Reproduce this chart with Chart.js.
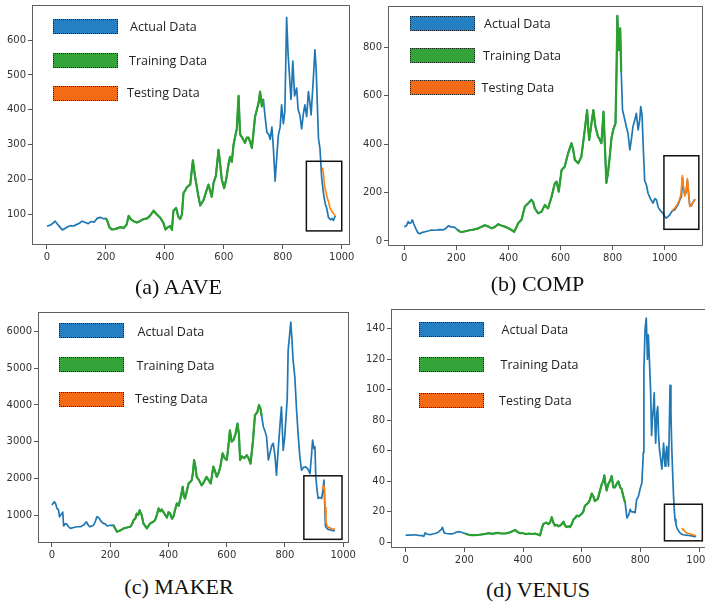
<!DOCTYPE html>
<html lang="en">
<head>
<meta charset="UTF-8" />
<title>Actual / Training / Testing</title>
<script src="https://cdn.jsdelivr.net/npm/chart.js"></script>
<style>
    body { margin: 0; background: #fff; width: 705px; height: 603px; overflow: hidden; position: relative; }
    canvas { position: absolute; }
    .key { position: absolute; width: 63px; height: 13px; border: 1px dotted #222; }
    .keytxt { position: absolute; font-family: "Open Sans", sans-serif; font-size: 12.5px; color: #222; line-height: 16px; white-space: nowrap; }
    .cap { position: absolute; font-family: "Liberation Serif", serif; font-size: 22px; line-height: 22px; color: #111; white-space: nowrap; transform: translateX(-50%); }
</style>
</head>
<body>

<canvas id="cA" width="356" height="262" style="left:0px;top:0px"></canvas>
<canvas id="cB" width="349" height="263" style="left:356px;top:0px"></canvas>
<canvas id="cC" width="356" height="260" style="left:4px;top:300px"></canvas>
<canvas id="cD" width="355" height="265" style="left:359px;top:300px"></canvas>

<script>
// ---- AAVE ----
const aaveX = [0,10,20,28,35,45,52,60,70,80,90,100,110,119,130,140,150,160,170,180,192,200,205,212,220,230,240,250,260,270,277,285,294,305,315,328,340,350,362,372,384,395,402,410,418,424,429,438,446,452,458,463,470,475,486,495,502,508,514,520,531,540,548,559,565,573,582,588,593,601,608,616,621,627,633,640,644,650,655,662,672,678,684,690,695,700,706,712,718,723,729,734,740,746,752,757,763,768,774,780,785,791,796,802,807,813,818,824,828,834,840,847,852,858,864,870,875,881,887,892,896,904,909,913,917,921,926,932,938,944,949,955,962,967,972,978];
const aaveY = [66,68,74,80,72,62,55,58,64,67,66,70,74,80,76,73,79,77,88,91,87,88,80,62,56,57,60,63,60,70,95,85,80,76,80,86,88,96,110,100,90,75,56,62,66,55,110,118,92,86,100,160,170,178,185,255,210,180,150,125,140,165,185,150,190,210,285,240,200,175,200,245,265,250,300,330,345,440,330,320,305,320,320,305,290,330,380,400,420,452,410,430,380,335,330,315,350,290,195,270,327,350,414,360,395,665,560,481,430,540,440,462,400,385,345,390,414,380,452,420,385,495,572,520,420,318,290,203,160,130,117,90,84,88,82,96];
const aaveTestX = [935,938,942,946,950,955,960,966,972,978];
const aaveTest = [234,215,178,165,150,136,118,109,102,96];
const aaveTrain = [200, 734];
const aaveXTicks = [0, 200, 400, 600, 800, 1000];
const aaveYTicks = [100, 200, 300, 400, 500, 600];

// ---- COMP ----
const compX = [0,8,15,20,26,31,36,41,48,54,60,66,80,95,105,120,135,150,160,169,180,194,205,215,220,235,250,258,270,284,295,309,322,335,348,361,373,386,400,412,422,430,437,450,463,476,488,495,501,514,527,540,546,552,565,578,585,593,604,616,629,642,648,655,668,680,693,702,706,710,718,726,734,744,750,757,765,770,776,782,789,795,802,811,815,818,821,824,829,833,838,847,853,859,866,872,878,885,891,898,904,908,913,918,923,930,936,945,955,962,968,975,981,988,994,1000,1006,1012,1019,1025,1030,1038,1045,1051,1058,1064,1068,1072,1077,1082,1087,1091,1096,1102,1109,1115];
const compY = [59,62,80,72,75,87,72,59,42,32,30,34,38,42,45,44,47,46,52,62,58,56,45,38,37,40,44,45,48,52,58,65,60,52,58,69,64,59,52,45,38,55,73,87,142,156,170,160,135,114,121,149,140,135,180,238,245,204,293,307,362,404,380,335,321,348,459,541,470,417,480,541,472,431,420,404,534,400,240,280,348,420,459,486,700,930,850,789,879,700,541,500,470,445,376,420,472,500,527,459,500,555,520,376,250,230,197,175,156,175,170,140,128,120,114,100,94,100,107,118,125,128,140,149,170,183,262,215,190,200,250,200,150,145,160,172];
const compTestX = [1028,1038,1048,1055,1062,1068,1072,1077,1082,1087,1091,1096,1104,1112,1118];
const compTest = [125,135,150,165,190,270,225,185,205,258,210,142,150,165,172];
const compTrain = [195, 835];
const compXTicks = [0, 200, 400, 600, 800, 1000];
const compYTicks = [0, 200, 400, 600, 800];

// ---- MAKER ----
const makerX = [0,8,13,17,22,26,30,34,37,40,45,51,57,63,75,86,98,109,118,125,131,143,150,154,160,166,172,177,183,189,200,211,218,223,235,246,258,269,275,280,286,291,296,301,308,314,320,326,331,337,345,354,360,366,372,377,383,389,395,400,406,412,417,423,429,435,440,445,449,453,457,463,469,475,480,484,488,493,497,505,514,522,531,538,545,550,554,560,566,572,577,582,586,593,600,605,611,617,623,630,637,642,646,652,660,669,675,682,690,697,705,711,716,720,726,731,737,743,749,755,760,766,771,777,783,788,794,799,803,808,811,816,820,824,828,834,840,846,851,857,864,872,879,886,891,895,900,903,906,910,914,920,926,930,934,937,939,944,948,955,965,972];
const makerY = [1270,1360,1300,1180,1150,950,1000,1040,1080,700,760,750,680,635,660,680,680,725,815,720,680,720,850,950,930,860,800,770,760,700,720,725,620,545,580,635,660,680,750,860,900,1040,1000,1130,1000,770,700,635,700,770,800,860,1000,1180,1100,1150,1080,1000,930,1080,1040,900,950,1150,1320,1250,1410,1600,1770,1500,1450,1650,1860,1900,1950,2150,2500,2300,2040,1950,1810,1900,2040,1950,1860,2100,2320,2200,2040,2150,2270,2500,2680,2550,2500,2800,3310,3000,3040,3200,3490,3200,2500,2600,2550,2630,2550,2400,3000,3720,3800,4000,3900,3700,3400,3300,3130,2500,2700,2900,2955,2600,2088,2800,3450,3948,2760,3100,3580,4200,5490,5900,6262,5800,5220,4760,3850,3130,2600,2220,2300,2310,2250,2130,2600,3040,2800,2860,2040,1700,1450,1480,1450,1650,1950,1200,700,640,610,600,570,580];
const makerTestX = [929,932,935,938,941,945,950,958,965,972];
const makerTest = [1700,1810,1750,1200,800,700,660,640,610,620];
const makerTrain = [210, 725];
const makerXTicks = [0, 200, 400, 600, 800, 1000];
const makerYTicks = [1000, 2000, 3000, 4000, 5000, 6000];

// ---- VENUS ----
const venusX = [0,15,30,45,55,62,66,72,83,92,100,110,117,122,125,129,132,140,150,157,165,172,180,190,202,215,225,236,250,260,270,285,295,305,315,325,339,350,360,368,373,380,390,400,410,420,430,440,450,458,463,469,475,480,486,492,498,503,509,515,520,526,532,538,543,549,555,560,566,572,578,583,590,595,600,605,611,617,623,628,634,640,645,650,655,661,668,673,677,681,685,690,697,702,708,713,718,725,731,736,742,748,754,760,765,770,776,782,787,793,799,805,810,812,816,820,824,827,831,835,838,841,845,847,850,852,856,859,862,865,869,873,876,879,884,887,890,893,896,899,901,904,907,910,913,916,918,921,924,930,936,945,955,965,975,985,990];
const venusY = [4.8,4.8,5.0,4.6,4.4,4.0,6.2,5.5,5.0,5.5,5.8,6.5,7.7,8.5,9.9,7.5,6.0,5.8,5.6,5.5,6.0,6.6,7.0,6.6,5.8,5.0,4.8,4.8,5.0,5.2,5.5,6.0,5.6,6.0,6.2,5.8,5.8,6.2,7.0,7.6,8.2,7.0,6.0,6.0,5.5,5.8,5.5,5.8,5.2,4.6,8.5,12,12.5,13,12,13,16.5,13,11,11.5,10.5,11,12,13.5,11,10,10.5,10,12,15,16,17.6,17,18,18.7,20,24,25,26,28,32,30,27,28,28.5,33,38,40,44,38,34,38,40.6,43.5,36,36,38,40,36,35,30,26,16,18,21.6,20,20,19.5,28,30,35,39,59,114,140,147,120,136,118,98,70,81,90,98,75,65,85,89,70,61,55,48,55,65,50,58,63,55,50,80,103,85,61,45,30,20,15,12,9.7,7.5,6,5,4.8,4.5,4.2,3.8,4.0];
const venusTestX = [941,945,950,955,962,970,978,985,990];
const venusTest = [9.5,8.5,7.5,6.5,6.0,5.5,5.0,4.6,4.3];
const venusTrain = [200, 750];
const venusXTicks = [0, 200, 400, 600, 800, 1000];
const venusYTicks = [0, 20, 40, 60, 80, 100, 120, 140];

const blue = '#1f77b4', green = '#2ca02c', orange = '#ff7f0e';

function pts(xs, ys) {
    return xs.map((x, i) => ({ x: x, y: ys[i] }));
}
function between(xs, ys, range) {
    return pts(xs, ys).filter(p => p.x >= range[0] && p.x <= range[1]);
}

// frame around the axes + the black box over the testing part
const framePlugin = {
    id: 'frame',
    afterDatasetsDraw(chart, args, opts) {
        const ctx = chart.ctx, a = chart.chartArea;
        const xs = chart.scales.x, ys = chart.scales.y;
        ctx.save();
        ctx.strokeStyle = '#606060';
        ctx.lineWidth = 1;
        ctx.strokeRect(a.left + 0.5, a.top + 0.5, a.right - a.left - 1, a.bottom - a.top - 1);
        if (opts.box) {
            const b = opts.box;
            const x0 = xs.getPixelForValue(b[0]), x1 = xs.getPixelForValue(b[1]);
            const y0 = ys.getPixelForValue(b[2]), y1 = ys.getPixelForValue(b[3]);
            ctx.strokeStyle = '#111';
            ctx.lineWidth = 1.5;
            ctx.strokeRect(x0, y1, x1 - x0, y0 - y1);
        }
        ctx.restore();
    }
};

function makeChart(id, c) {
    const tickFont = { family: 'DejaVu Sans', size: 10 };
    return new Chart(document.getElementById(id), {
        type: 'line',
        data: {
            datasets: [
                { data: pts(c.x, c.y), borderColor: blue, borderWidth: 1.7, order: 3 },
                { data: between(c.x, c.y, c.train), borderColor: green, borderWidth: 2.2, order: 2 },
                { data: pts(c.testX, c.test), borderColor: orange, borderWidth: 1.6, order: 1 }
            ]
        },
        options: {
            responsive: false,
            animation: false,
            parsing: false,
            elements: { point: { radius: 0 }, line: { tension: 0, borderJoinStyle: 'round' } },
            layout: { padding: c.pad },
            plugins: {
                legend: { display: false },
                tooltip: { enabled: false },
                frame: { box: c.box }
            },
            scales: {
                x: {
                    type: 'linear',
                    min: c.xr[0], max: c.xr[1],
                    grid: { drawOnChartArea: false, tickLength: 4, color: '#555' },
                    border: { display: false },
                    ticks: { padding: 2, color: '#333', font: tickFont, maxRotation: 0, autoSkip: false,
                        callback: v => String(v) },
                    afterBuildTicks: s => { s.ticks = c.xTicks.map(v => ({ value: v })); },
                    afterFit: s => { s.height = 17; s.paddingLeft = 0; s.paddingRight = 0; }
                },
                y: {
                    type: 'linear',
                    min: c.yr[0], max: c.yr[1],
                    grid: { drawOnChartArea: false, tickLength: 4, color: '#555' },
                    border: { display: false },
                    ticks: { padding: 2, color: '#333', font: tickFont, autoSkip: false,
                        callback: v => String(v) },
                    afterBuildTicks: s => { s.ticks = c.yTicks.map(v => ({ value: v })); },
                    afterFit: s => { s.width = c.yw; s.paddingTop = 0; s.paddingBottom = 0; }
                }
            }
        },
        plugins: [framePlugin]
    });
}

makeChart('cA', { x: aaveX, y: aaveY, testX: aaveTestX, test: aaveTest, train: aaveTrain,
    xTicks: aaveXTicks, yTicks: aaveYTicks,
    xr: [-50.8, 1028], yr: [11.5, 701], yw: 32,
    pad: { top: 5, right: 6, left: 0, bottom: 0 }, box: [880, 1000, 52, 252] });
makeChart('cB', { x: compX, y: compY, testX: compTestX, test: compTest, train: compTrain,
    xTicks: compXTicks, yTicks: compYTicks,
    xr: [-62.5, 1147], yr: [-21, 971], yw: 32,
    pad: { top: 6, right: 2, left: 0, bottom: 0 }, box: [997, 1131, 48, 352] });
makeChart('cC', { x: makerX, y: makerY, testX: makerTestX, test: makerTest, train: makerTrain,
    xTicks: makerXTicks, yTicks: makerYTicks,
    xr: [-48, 1020], yr: [237, 6534], yw: 34,
    pad: { top: 12, right: 11, left: 0, bottom: 0 }, box: [865, 996, 337, 2069] });
makeChart('cD', { x: venusX, y: venusY, testX: venusTestX, test: venusTest, train: venusTrain,
    xTicks: venusXTicks, yTicks: venusYTicks,
    xr: [-50, 1044], yr: [-3.7, 153], yw: 32,
    pad: { top: 9, right: 2, left: 0, bottom: 0 }, box: [882, 1011, 1, 25] });

// legends and captions
const keyLabels = ['Actual Data', 'Training Data', 'Testing Data'];
const keyColors = ['#2580c3', '#34a33a', '#f36b16'];
const legends = [
    { bx: 53, by: [19, 53, 86], tx: [130, 129, 127], ty: [27, 60.5, 93] },
    { bx: 410, by: [16, 48, 80], tx: [484, 483, 481.5], ty: [24, 56, 88] },
    { bx: 59, by: [323, 357, 392], tx: [137.5, 136.5, 135], ty: [331.5, 365.5, 399] },
    { bx: 419, by: [322, 357, 393], tx: [501.5, 500.5, 499], ty: [330, 365, 400.5] }
];
legends.forEach(l => {
    keyLabels.forEach((t, i) => {
        const k = document.createElement('div');
        k.className = 'key';
        k.style.left = l.bx + 'px';
        k.style.top = l.by[i] + 'px';
        k.style.background = keyColors[i];
        document.body.appendChild(k);
        const d = document.createElement('div');
        d.className = 'keytxt';
        d.textContent = t;
        d.style.left = l.tx[i] + 'px';
        d.style.top = (l.ty[i] - 8) + 'px';
        document.body.appendChild(d);
    });
});

const captions = [
    { text: '(a) AAVE', x: 178.5, y: 287 },
    { text: '(b) COMP', x: 537.5, y: 283.5 },
    { text: '(c) MAKER', x: 179, y: 587 },
    { text: '(d) VENUS', x: 538, y: 590 }
];
captions.forEach(c => {
    const d = document.createElement('div');
    d.className = 'cap';
    d.textContent = c.text;
    d.style.left = c.x + 'px';
    d.style.top = (c.y - 11) + 'px';
    document.body.appendChild(d);
});
</script>
</body>
</html>
